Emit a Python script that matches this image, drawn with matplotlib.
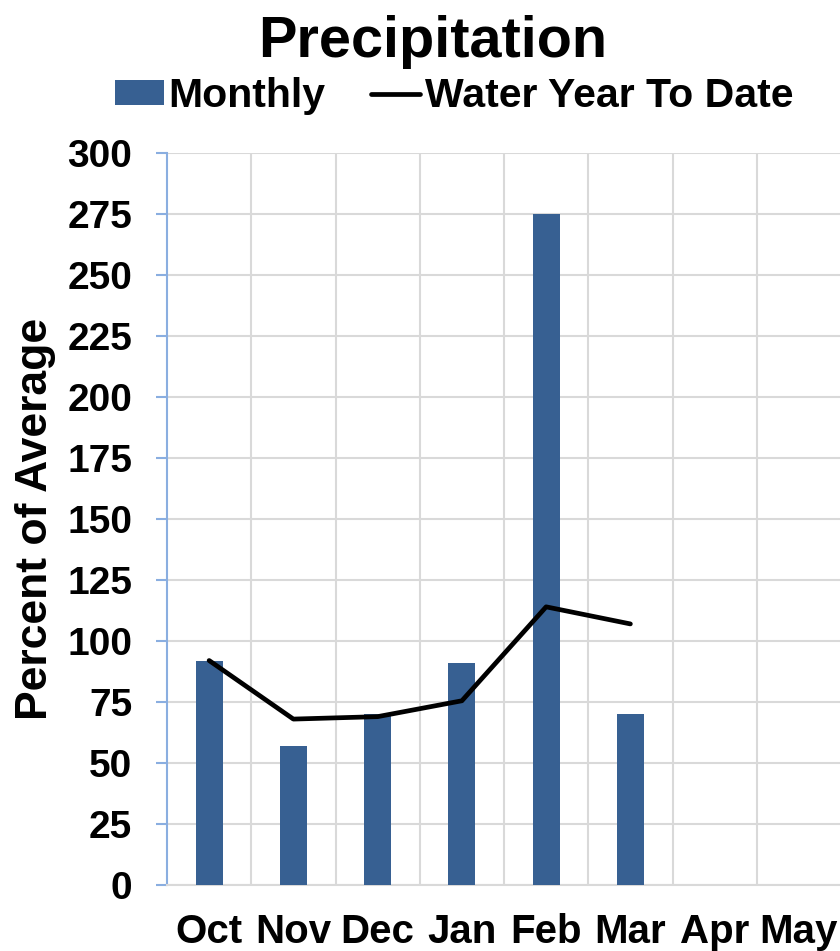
import matplotlib
matplotlib.use("Agg")
import matplotlib.pyplot as plt
import numpy as np

plt.rcParams['font.family'] = ['Liberation Sans', 'DejaVu Sans']
plt.rcParams['font.weight'] = 'bold'

months = ['Oct', 'Nov', 'Dec', 'Jan', 'Feb', 'Mar', 'Apr', 'May']
monthly = [92, 57, 70, 91, 275, 70]
water_ytd = [92, 68, 69, 75.5, 114, 107]

bar_color = '#376092'
spine_blue = '#8AAEE0'
grid_gray = '#D9D9D9'

fig = plt.figure(figsize=(8.4, 9.51), dpi=100)
ax = fig.add_axes([167 / 840, 66 / 951, 674 / 840, 732 / 951])

x = np.arange(len(months))
bars = ax.bar(x[:len(monthly)], monthly, width=0.32, color=bar_color, zorder=3, label='Monthly')
line, = ax.plot(x[:len(water_ytd)], water_ytd, color='black', linewidth=3.4, zorder=4,
                solid_joinstyle='round', solid_capstyle='round', label='Water Year To Date')

ax.set_xlim(-0.5, len(months) - 0.5)
ax.set_ylim(0, 300)
ax.set_yticks(np.arange(0, 301, 25))
ax.set_xticks(x)
ax.set_xticklabels(months, fontsize=29, fontweight='bold')
ax.set_xticks(np.arange(0.5, len(months) - 0.5, 1), minor=True)
for lbl in ax.get_yticklabels():
    lbl.set_fontsize(28)
    lbl.set_fontweight('bold')

ax.grid(axis='y', which='major', color=grid_gray, linewidth=1.5, zorder=0)
ax.grid(axis='x', which='minor', color=grid_gray, linewidth=1.5, zorder=0)
ax.tick_params(axis='x', which='both', length=0, pad=20)
ax.tick_params(axis='y', direction='out', length=8, width=1.5, color=spine_blue, pad=17)

for s in ['top', 'right']:
    ax.spines[s].set_visible(False)
ax.spines['left'].set_color(spine_blue)
ax.spines['left'].set_linewidth(1.5)
ax.spines['bottom'].set_color(grid_gray)
ax.spines['bottom'].set_linewidth(1.5)

ax.set_ylabel('Percent of Average', fontsize=32, fontweight='bold', labelpad=8)

fig.text(433 / 840, 1 - 57 / 951, 'Precipitation', fontsize=41.5, fontweight='bold',
         ha='center', va='baseline')
fig.legend(handles=[bars, line], loc='center', bbox_to_anchor=(454 / 840, 1 - 96 / 951),
           ncol=2, frameon=False, fontsize=29.5, handlelength=1.2, handleheight=0.55,
           handletextpad=0.12, columnspacing=1.1, borderpad=0)

fig.savefig('out.png', dpi=100)
